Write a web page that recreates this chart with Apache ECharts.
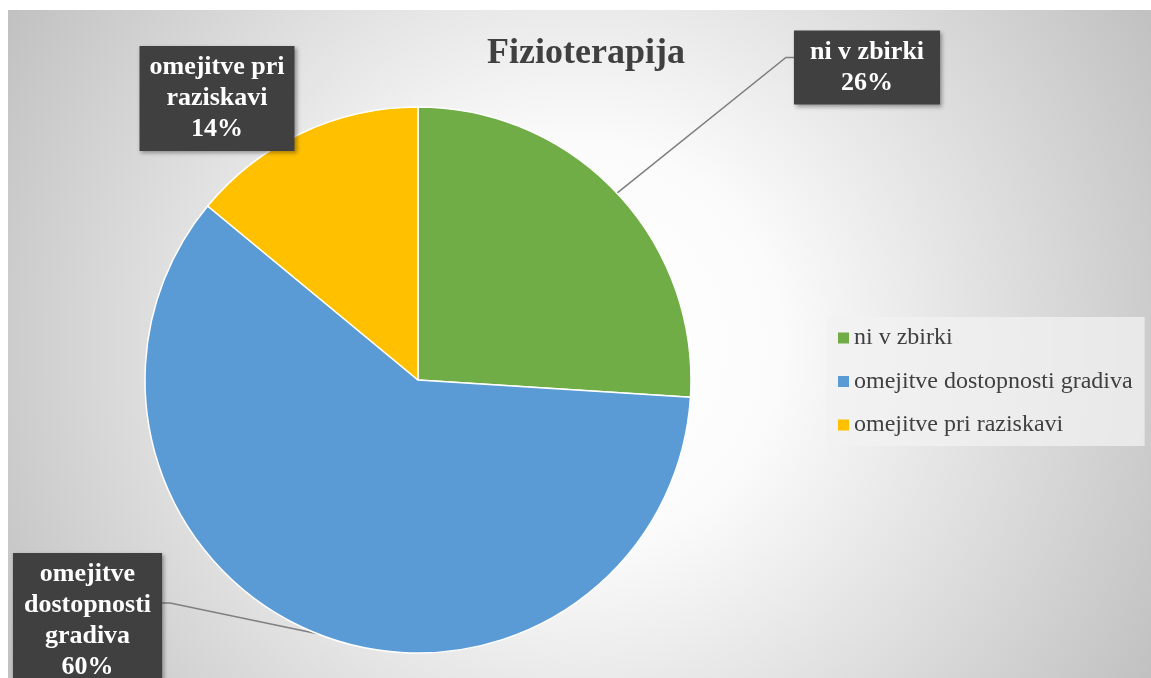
<!DOCTYPE html>
<html>
<head>
<meta charset="utf-8">
<script src="https://cdn.jsdelivr.net/npm/echarts@6/dist/echarts.min.js"></script>
<style>
html,body{margin:0;padding:0;background:#fff;width:1151px;height:678px;overflow:hidden;}
#c{position:absolute;left:8px;top:10px;width:1143px;height:668px;}
</style>
</head>
<body>
<div id="c"></div>
<script>
const titleText = 'Fizioterapija';
const categories = ['ni v zbirki', 'omejitve dostopnosti gradiva', 'omejitve pri raziskavi'];
const labelTexts = ['ni v zbirki', 'omejitve\ndostopnosti\ngradiva', 'omejitve pri\nraziskavi'];
const values = [26, 60, 14];
const colors = ['#70ad47', '#5b9bd5', '#ffc000'];

const serif = '"Liberation Serif", "Times New Roman", serif';
const chart = echarts.init(document.getElementById('c'));

const labelSpots = [
  {x: 859, y: 57.5, lineDy: -10, pad: [6, 16, 6, 16]},
  {x: 79.5, y: 611, lineDy: -18, pad: [6, 11, 6, 11]},
  {x: 209, y: 88.5, lineDy: 0, pad: [6, 10, 6, 10]}
];

chart.setOption({
  backgroundColor: {
    type: 'radial', x: 0.5, y: 0.5, r: 1.0,
    colorStops: [
      {offset: 0, color: '#ffffff'},
      {offset: 0.3, color: '#fbfbfb'},
      {offset: 1, color: '#c0c0c0'}
    ]
  },
  title: {
    text: titleText,
    left: 573, textAlign: 'center', top: 21,
    textStyle: {fontFamily: serif, fontWeight: 'bold', fontSize: 36, color: '#404040'}
  },
  legend: {
    orient: 'vertical',
    left: 818, top: 307,
    padding: [9, 12, 9, 12],
    backgroundColor: 'rgba(242,242,242,0.75)',
    itemWidth: 11, itemHeight: 11, itemGap: 19.5,
    itemStyle: {borderWidth: 0},
    icon: 'rect',
    textStyle: {fontFamily: serif, fontSize: 24, lineHeight: 24, color: '#404040'},
    data: categories
  },
  series: [{
    type: 'pie',
    center: [410, 370],
    radius: 273,
    startAngle: 90,
    clockwise: true,
    avoidLabelOverlap: false,
    itemStyle: {borderColor: '#ffffff', borderWidth: 1.5},
    label: {
      show: true,
      position: 'outside',
      formatter: p => labelTexts[p.dataIndex] + '\n' + p.percent.toFixed(0) + '%',
      fontFamily: serif, fontWeight: 'bold', fontSize: 26, lineHeight: 31,
      color: '#ffffff',
      backgroundColor: '#404040',
      padding: [6, 11, 6, 11],
      align: 'center',
      shadowColor: 'rgba(0,0,0,0.35)', shadowBlur: 4, shadowOffsetX: 2, shadowOffsetY: 2
    },
    labelLine: {show: true, length: 20, length2: 20, smooth: false, lineStyle: {color: '#7f7f7f', width: 1.5}},
    labelLayout: function (params) {
      const s = labelSpots[params.dataIndex];
      const out = {x: s.x, y: s.y, align: 'center', verticalAlign: 'middle'};
      const pts = params.labelLinePoints;
      if (pts && pts.length) {
        const w = params.labelRect.width;
        const start = pts[0];
        const side = start[0] > s.x ? 1 : -1;
        const edge = s.x + side * w / 2;
        const ly = s.y + s.lineDy;
        out.labelLinePoints = [start, [edge + side * 8, ly], [edge, ly]];
      }
      return out;
    },
    data: categories.map((n, i) => ({
      name: n, value: values[i], itemStyle: {color: colors[i]},
      label: {padding: labelSpots[i].pad},
      labelLine: i === 2 ? {show: false} : undefined
    }))
  }]
});
</script>
</body>
</html>
